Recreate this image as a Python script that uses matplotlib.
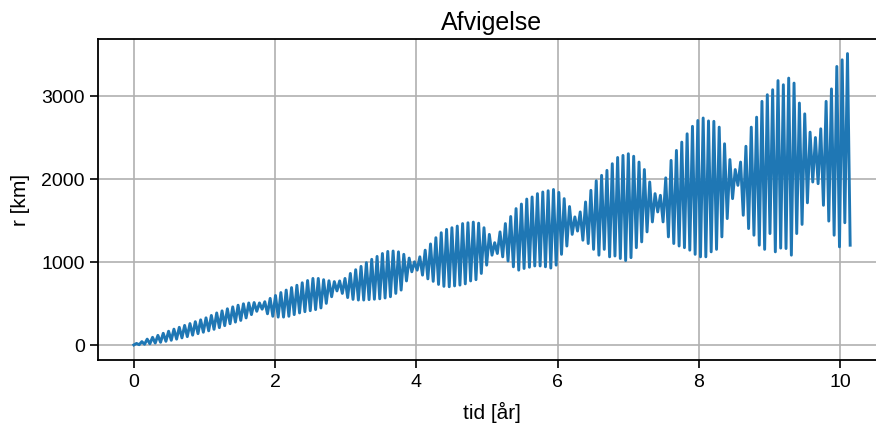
import numpy as np
import matplotlib
matplotlib.use("Agg")
import matplotlib.pyplot as plt

plt.rcParams['font.family'] = ['Liberation Sans', 'DejaVu Sans']

# afvigelse i km, aflæst som skiftevis bund/top for hver måned
bunde = [0, 3, 8, 14, 22, 32, 44, 56, 70, 85,
         100, 118, 136, 153, 170, 188, 208, 232, 255, 275,
         295, 325, 365, 405, 430, 375, 345, 335, 335, 345,
         365, 385, 400, 412, 425, 445, 500, 580, 650, 620,
         570, 548, 540, 540, 545, 550, 555, 565, 580, 620,
         660, 770, 880, 900, 840, 795, 765, 728, 705, 700,
         710, 720, 735, 770, 785, 860, 960, 1080, 1100, 1060,
         1010, 940, 900, 920, 935, 950, 950, 940, 925, 960,
         1090, 1190, 1330, 1370, 1260, 1220, 1150, 1080, 1150, 1060,
         1070, 1040, 1015, 1050, 1170, 1240, 1360, 1480, 1600, 1480,
         1300, 1220, 1190, 1170, 1140, 1090, 1060, 1060, 1120, 1150,
         1300, 1520, 1760, 1920, 1560, 1400, 1320, 1200, 1150, 1340,
         1120, 1165, 1160, 1080, 1340, 1450, 1710, 1960, 1940, 1680,
         1490, 1320, 1180, 1470, 1200]
toppe = [18, 40, 70, 92, 115, 140, 165, 190, 212, 235,
         257, 280, 302, 326, 355, 385, 410, 435, 458, 478,
         495, 505, 510, 505, 520, 560, 595, 630, 660, 690,
         718, 748, 775, 800, 800, 785, 772, 762, 770, 800,
         860, 905, 945, 990, 1030, 1065, 1100, 1125, 1130, 1120,
         1090, 1045, 1000, 1060, 1140, 1215, 1290, 1350, 1390, 1410,
         1430, 1460, 1470, 1478, 1465, 1410, 1330, 1230, 1360, 1460,
         1545, 1640, 1695, 1755, 1780, 1820, 1840, 1855, 1870, 1835,
         1760, 1665, 1540, 1600, 1720, 1860, 1975, 2040, 2100, 2180,
         2255, 2280, 2300, 2270, 2200, 2110, 1960, 1820, 1800, 2010,
         2220, 2340, 2440, 2540, 2630, 2700, 2730, 2695, 2690, 2620,
         2420, 2230, 2110, 2200, 2390, 2620, 2740, 2930, 3010, 3070,
         3180, 3130, 3210, 3150, 2910, 2780, 2560, 2495, 2600, 2930,
         3080, 3350, 3430, 3505]
slut_tid = 10.14  # år

r = []
for b, t in zip(bunde, toppe):
    r += [b, t]
r.append(bunde[-1])
r = np.array(r)
tid = np.linspace(0, slut_tid, len(r))

fig = plt.figure(figsize=(8.76, 4.27), dpi=100)
ax = fig.add_axes([0.1119, 0.1557, 0.8995, 0.7506])

ax.plot(tid, r, color='#1f77b4', linewidth=2.1)

ax.set_title('Afvigelse', fontsize=18, pad=7)
ax.set_xlabel('tid [år]', fontsize=15, labelpad=8)
ax.set_ylabel('r [km]', fontsize=15, labelpad=8)
ax.set_xticks([0, 2, 4, 6, 8, 10])
ax.set_yticks([0, 1000, 2000, 3000])
ax.tick_params(labelsize=14, direction='out', length=6, width=1.2)
ax.grid(True, color='#b0b0b0', linewidth=1.2)
for s in ax.spines.values():
    s.set_linewidth(1.3)

fig.savefig('out.png', dpi=100)
